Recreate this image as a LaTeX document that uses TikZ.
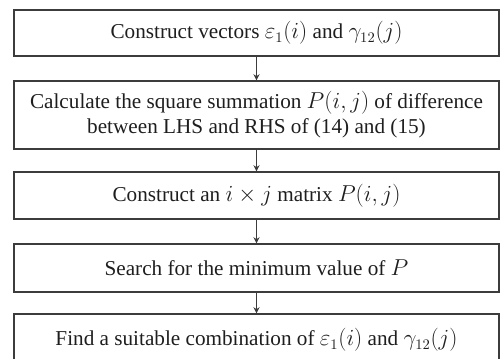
\documentclass[tikz,border=0pt]{standalone}
\usepackage{amsmath}
\usepackage{fontspec}
\setmainfont{Liberation Serif}
\usetikzlibrary{arrows.meta}
\definecolor{boxline}{RGB}{60,60,60}
\definecolor{steptext}{RGB}{30,30,30}

\begin{document}
\begin{tikzpicture}[
  x=0.75pt, y=-0.75pt,
  stepbox/.style={rectangle, draw=boxline, line width=1.1pt, minimum width=363.75pt, align=center, inner sep=0pt, text=steptext, font=\fontsize{15.9}{18.75}\selectfont},
  arrow/.style={-{Stealth[length=4.5pt,width=4.5pt]}, line width=0.7pt, color=boxline}
]
\useasboundingbox (0,0) rectangle (500,358);

% Boxes
\node[stepbox, minimum height=34.5pt] (s1) at (256.5,33) {Construct vectors $\varepsilon_1(i)$ and $\gamma_{12}(j)$};
\node[stepbox, minimum height=51pt] (s2) at (256.5,115) {Calculate the square summation $P(i,j)$ of difference\\between LHS and RHS of (14) and (15)};
\node[stepbox, minimum height=35.25pt] (s3) at (256.5,195.5) {Construct an $i\times j$ matrix $P(i,j)$};
\node[stepbox, minimum height=36pt] (s4) at (256.5,268) {Search for the minimum value of $P$};
\node[stepbox, minimum height=39pt] (s5) at (256.5,340) {Find a suitable combination of $\varepsilon_1(i)$ and $\gamma_{12}(j)$};

% Arrows
\draw[arrow] (s1) -- (s2);
\draw[arrow] (s2) -- (s3);
\draw[arrow] (s3) -- (s4);
\draw[arrow] (s4) -- (s5);

\end{tikzpicture}
\end{document}
